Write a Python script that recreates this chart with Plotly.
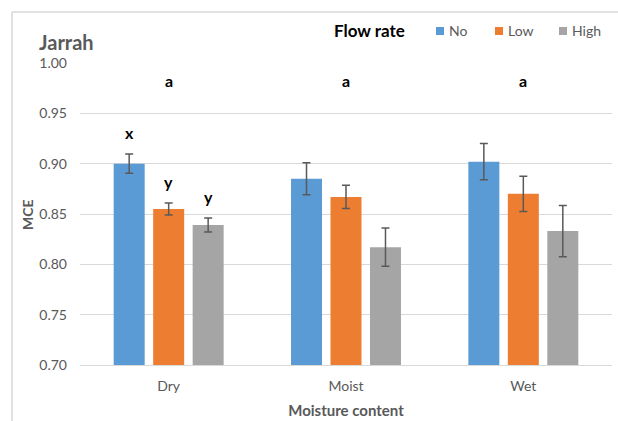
import plotly.graph_objects as go

# Moisture treatments along the x axis
categories = ["Dry", "Moist", "Wet"]

# Mean MCE per flow rate and its standard error
flow_rates = ["No", "Low", "High"]
mce_no = [0.900, 0.885, 0.902]
mce_low = [0.855, 0.867, 0.870]
mce_high = [0.839, 0.817, 0.833]
err_no = [0.0095, 0.016, 0.018]
err_low = [0.006, 0.0115, 0.0175]
err_high = [0.007, 0.019, 0.0255]

# Significance letters: one across moisture groups, one per bar within Dry
group_letters = ["a", "a", "a"]
dry_letters = ["x", "y", "y"]

colors = ["#5B9BD5", "#ED7D31", "#A5A5A5"]
text_grey = "#595959"
grid_grey = "#D9D9D9"
font_family = "Lato, 'Noto Sans', sans-serif"

BARGAP = 0.332
BARGROUPGAP = 0.215

# Plot-area geometry in pixels, used to place paper-space items
W, H = 618, 421
L, R, T, B = 80, 6, 63, 56
PW, PH = W - L - R, H - T - B


def px_x(px):
    return (px - L) / PW


def px_y(py):
    return (H - B - py) / PH


x_pos = list(range(len(categories)))
means = [mce_no, mce_low, mce_high]
errs = [err_no, err_low, err_high]

fig = go.Figure()
for name, m, e, c in zip(flow_rates, means, errs, colors):
    fig.add_trace(go.Bar(
        x=x_pos, y=m, name=name, showlegend=False,
        marker=dict(color=c, line=dict(width=0)),
        error_y=dict(type="data", array=e, visible=True,
                     color=text_grey, thickness=1.5, width=4),
    ))

annotations = []
shapes = []

# Letters above each moisture group
for i, letter in enumerate(group_letters):
    annotations.append(dict(x=i, y=0.983, xref="x", yref="y", text=f"<b>{letter}</b>",
                            showarrow=False, font=dict(size=16, color="black", family=font_family)))

# Letters above individual bars of the Dry group
slot = (1 - BARGAP) / len(flow_rates)
for j, letter in enumerate(dry_letters):
    top = means[j][0] + errs[j][0]
    annotations.append(dict(x=0 + (j - 1) * slot, y=top + 0.021, xref="x", yref="y",
                            text=f"<b>{letter}</b>", showarrow=False,
                            font=dict(size=16, color="black", family=font_family)))

# Chart title
annotations.append(dict(x=px_x(37), y=px_y(42), xref="paper", yref="paper", xanchor="left",
                        yanchor="middle", text="<b>Jarrah</b>", showarrow=False,
                        font=dict(size=20, color=text_grey, family=font_family)))

# Y axis title
annotations.append(dict(x=px_x(27), y=px_y(215), xref="paper", yref="paper",
                        xanchor="center", yanchor="middle", textangle=-90,
                        text="<b>MCE</b>", showarrow=False,
                        font=dict(size=14, color=text_grey, family=font_family)))

# Legend: title plus small colour squares with labels
legend_y = 31
annotations.append(dict(x=px_x(332), y=px_y(legend_y), xref="paper", yref="paper",
                        xanchor="left", yanchor="middle", text="<b>Flow rate</b>",
                        showarrow=False, font=dict(size=17, color="black", family=font_family)))
legend_x = [436, 495, 559]
for name, c, lx in zip(flow_rates, colors, legend_x):
    shapes.append(dict(type="rect", xref="paper", yref="paper",
                       x0=px_x(lx), x1=px_x(lx + 8), y0=px_y(legend_y - 4), y1=px_y(legend_y + 4),
                       fillcolor=c, line=dict(width=0)))
    annotations.append(dict(x=px_x(lx + 11), y=px_y(legend_y), xref="paper", yref="paper",
                            xanchor="left", yanchor="middle", text=name, showarrow=False,
                            font=dict(size=14, color=text_grey, family=font_family)))

# Chart area frame (top and left edges visible)
shapes.append(dict(type="line", xref="paper", yref="paper", x0=px_x(12), x1=px_x(W + 5),
                   y0=px_y(12), y1=px_y(12), line=dict(color=grid_grey, width=1.5)))
shapes.append(dict(type="line", xref="paper", yref="paper", x0=px_x(12), x1=px_x(12),
                   y0=px_y(12), y1=px_y(H + 5), line=dict(color=grid_grey, width=1.5)))

fig.update_layout(
    width=W, height=H,
    margin=dict(l=L, r=R, t=T, b=B),
    paper_bgcolor="white", plot_bgcolor="white",
    barmode="group", bargap=BARGAP, bargroupgap=BARGROUPGAP,
    font=dict(family=font_family, color=text_grey, size=13),
    showlegend=False,
    xaxis=dict(
        tickmode="array", tickvals=x_pos, ticktext=categories,
        range=[-0.5, 2.5], showgrid=False, showline=True, linecolor=grid_grey, linewidth=1,
        ticks="", ticklabelstandoff=8, tickfont=dict(size=14, color=text_grey),
        title=dict(text="<b>Moisture content</b>", font=dict(size=15, color=text_grey), standoff=12),
    ),
    yaxis=dict(
        range=[0.70, 1.00], dtick=0.05, tickformat=".2f",
        showgrid=True, gridcolor=grid_grey, gridwidth=1, zeroline=False,
        showline=False, ticks="", ticklabelstandoff=12,
        tickfont=dict(size=14, color=text_grey),
    ),
    annotations=annotations,
    shapes=shapes,
)

fig.write_html("out.html")
